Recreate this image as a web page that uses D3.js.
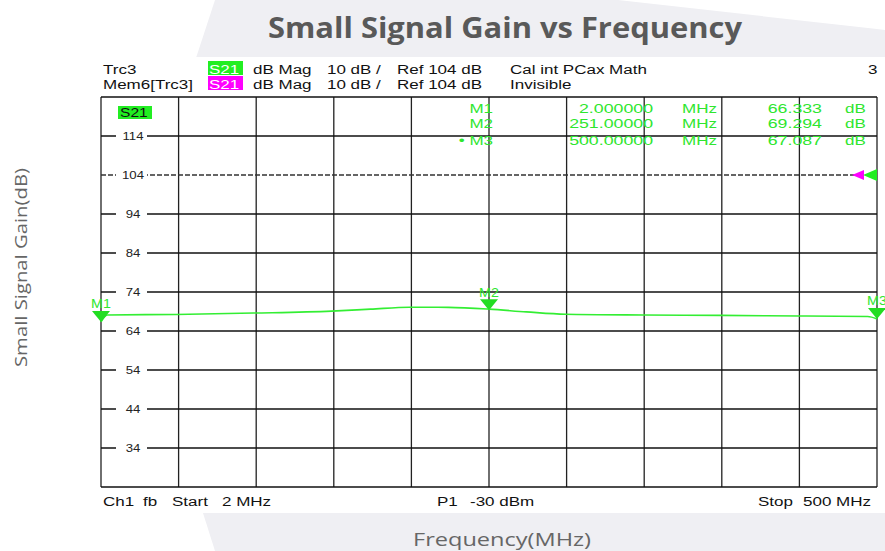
<!DOCTYPE html>
<html>
<head>
<meta charset="utf-8">
<script src="https://cdn.jsdelivr.net/npm/d3@7"></script>
<style>
  body { margin: 0; background: #fff; }
  svg { display: block; }
</style>
</head>
<body>
<svg id="chart" width="885" height="551"></svg>
<script>
// trace
const freqMHz = [2, 6, 50, 100, 150, 175, 200, 225, 251, 275, 300, 350, 400, 450, 494, 500];
const gainDb = [66.33, 68.1, 68.25, 68.6, 69.1, 69.6, 70.1, 70.05, 69.6, 68.9, 68.3, 68.1, 68.0, 67.85, 67.7, 67.09];

const markerNames = ['M1', 'M2', 'M3'];
const markerFreqs = [2, 251, 500];
const markerGains = [66.333, 69.294, 67.087];
const markerFreqText = ['2.000000', '251.00000', '500.00000'];
const markerGainText = ['66.333', '69.294', '67.087'];

const yTickLabels = [114, 104, 94, 84, 74, 64, 54, 44, 34];
const startMHz = 2, stopMHz = 500;
const refLevel = 104, dbPerDiv = 10;

const SX = 1.36; // screenshot is stretched sideways
const FONT = '"Liberation Sans", Arial, sans-serif';
const GREEN = '#2ee62e';

const svg = d3.select('#chart');
const plot = { left: 101, right: 877, top: 97, bottom: 487 };

const x = d3.scaleLinear().domain([startMHz, stopMHz]).range([plot.left, plot.right]);
const y = d3.scaleLinear()
    .domain([refLevel - 8 * dbPerDiv, refLevel + 2 * dbPerDiv])
    .range([plot.bottom, plot.top]);

function txt(g, px, py, s, opt = {}) {
    return g.append('text')
        .attr('transform', `translate(${px},${py}) scale(${opt.sx || SX},1)`)
        .attr('font-family', FONT)
        .attr('font-size', opt.size || 12.5)
        .attr('font-weight', opt.weight || 'normal')
        .attr('fill', opt.fill || '#111')
        .attr('text-anchor', opt.anchor || 'start')
        .text(s);
}

// slide background
svg.append('path')
    .attr('d', 'M215,0 L618,0 L868,28 L885,30 L885,551 L215,551 L203,513 L190,300 L196,58 Z')
    .attr('fill', '#efeff3');
svg.append('rect')
    .attr('x', 95).attr('y', 57).attr('width', 790).attr('height', 456)
    .attr('fill', '#fff');

const grid = svg.append('g');
const xDivs = d3.range(11).map(i => startMHz + i * (stopMHz - startMHz) / 10);
grid.selectAll('line.v').data(xDivs).enter().append('line')
    .attr('x1', d => x(d)).attr('x2', d => x(d))
    .attr('y1', plot.top).attr('y2', plot.bottom)
    .attr('stroke', '#222').attr('stroke-width', 1.3);
const yDivs = d3.range(y.domain()[0], y.domain()[1] + 1, dbPerDiv);
grid.selectAll('line.h').data(yDivs.filter(d => d !== refLevel)).enter().append('line')
    .attr('x1', plot.left).attr('x2', plot.right)
    .attr('y1', d => y(d)).attr('y2', d => y(d))
    .attr('stroke', '#111').attr('stroke-width', 1.3);
grid.append('line')
    .attr('x1', plot.left).attr('x2', x(stopMHz) - 16)
    .attr('y1', y(refLevel)).attr('y2', y(refLevel))
    .attr('stroke', '#333').attr('stroke-width', 1.3)
    .attr('stroke-dasharray', '5,2');

// tick labels sit inside the plot on a gap in the line
const ticks = svg.append('g');
ticks.selectAll('rect').data(yTickLabels).enter().append('rect')
    .attr('x', plot.left + 15).attr('y', d => y(d) - 3)
    .attr('width', 31).attr('height', 6).attr('fill', '#fff');
yTickLabels.forEach(v => {
    txt(ticks, plot.left + 32, y(v) + 4, v, { size: 11, anchor: 'middle', sx: 1.2, fill: '#222' });
});

// S21 tag in plot
svg.append('rect').attr('x', 118).attr('y', 106).attr('width', 34).attr('height', 13).attr('fill', '#22ee22');
txt(svg, 120, 117, 'S21', { sx: 1.25 });

// trace
const line = d3.line().x((d, i) => x(freqMHz[i])).y(d => y(d)).curve(d3.curveMonotoneX);
svg.append('path')
    .datum(gainDb)
    .attr('d', line)
    .attr('fill', 'none')
    .attr('stroke', '#33ee33')
    .attr('stroke-width', 1.6);

// markers
const mk = svg.append('g');
markerNames.forEach((m, i) => {
    const px = x(markerFreqs[i]), py = y(markerGains[i]);
    mk.append('path')
        .attr('d', `M${px - 9},${py - 11} L${px + 9},${py - 11} L${px},${py} Z`)
        .attr('fill', '#22dd22');
    txt(mk, px, py - 13.5, m, { size: 13, anchor: 'middle', sx: 1.1, fill: GREEN });
});

// reference arrows on the right
svg.append('path')
    .attr('d', `M${x(stopMHz) - 25},${y(refLevel)} L${x(stopMHz) - 13},${y(refLevel) - 5} L${x(stopMHz) - 13},${y(refLevel) + 5} Z`)
    .attr('fill', '#ff00ff');
svg.append('path')
    .attr('d', `M${x(stopMHz) - 14},${y(refLevel)} L${x(stopMHz)},${y(refLevel) - 6} L${x(stopMHz)},${y(refLevel) + 6} Z`)
    .attr('fill', '#22ee22');

// marker table
const tbl = svg.append('g');
const rowY = [113, 128, 145];
markerNames.forEach((m, i) => {
    txt(tbl, 493, rowY[i], (i === 2 ? '\u2022 ' : '') + m, { anchor: 'end', fill: GREEN });
    txt(tbl, 653, rowY[i], markerFreqText[i], { anchor: 'end', fill: GREEN, sx: 1.42 });
    txt(tbl, 682, rowY[i], 'MHz', { fill: GREEN });
    txt(tbl, 822, rowY[i], markerGainText[i], { anchor: 'end', fill: GREEN, sx: 1.42 });
    txt(tbl, 845, rowY[i], 'dB', { fill: GREEN });
});

// header
const hd = svg.append('g');
txt(hd, 103, 74, 'Trc3');
txt(hd, 103, 89, 'Mem6[Trc3]');
hd.append('rect').attr('x', 208).attr('y', 61).attr('width', 35).attr('height', 14).attr('fill', '#22ee22');
hd.append('rect').attr('x', 208).attr('y', 76).attr('width', 35).attr('height', 14).attr('fill', '#ff00ff');
[74, 89].forEach(yy => {
    txt(hd, 209, yy, 'S21', { fill: '#fff' });
    txt(hd, 253, yy, 'dB Mag');
    txt(hd, 327, yy, '10 dB /');
    txt(hd, 397, yy, 'Ref 104 dB');
});
txt(hd, 510, 74, 'Cal int PCax Math');
txt(hd, 510, 89, 'Invisible');
txt(hd, 868, 74, '3');

// footer
const ft = svg.append('g');
txt(ft, 103, 506, 'Ch1');
txt(ft, 143, 506, 'fb');
txt(ft, 172, 506, 'Start');
txt(ft, 222, 506, '2 MHz');
txt(ft, 437, 506, 'P1');
txt(ft, 470, 506, '-30 dBm');
txt(ft, 758, 506, 'Stop');
txt(ft, 803, 506, '500 MHz');

// slide titles
svg.append('text')
    .attr('x', 268).attr('y', 38)
    .attr('font-family', '"Open Sans", sans-serif')
    .attr('font-weight', 'bold').attr('font-size', 28)
    .attr('fill', '#595959')
    .attr('textLength', 474).attr('lengthAdjust', 'spacingAndGlyphs')
    .text('Small Signal Gain vs Frequency');

svg.append('text')
    .attr('transform', 'translate(27,367) rotate(-90)')
    .attr('font-family', '"Open Sans", sans-serif')
    .attr('font-size', 17)
    .attr('fill', '#666')
    .attr('textLength', 199).attr('lengthAdjust', 'spacingAndGlyphs')
    .text('Small Signal Gain(dB)');

svg.append('text')
    .attr('x', 413).attr('y', 546)
    .attr('font-family', '"Open Sans", sans-serif')
    .attr('font-size', 18)
    .attr('fill', '#666')
    .attr('textLength', 178).attr('lengthAdjust', 'spacingAndGlyphs')
    .text('Frequency(MHz)');
</script>
</body>
</html>
